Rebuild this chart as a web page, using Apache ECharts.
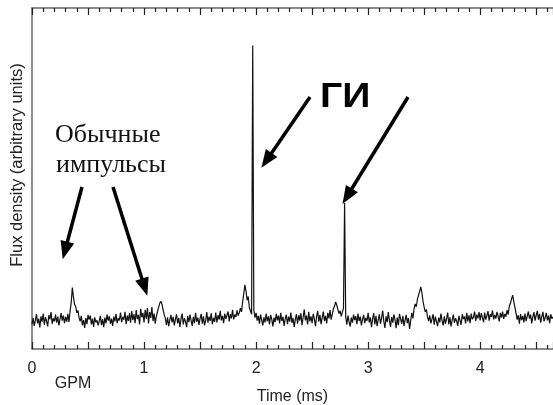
<!DOCTYPE html>
<html>
<head>
<meta charset="utf-8">
<script src="https://cdn.jsdelivr.net/npm/echarts@6/dist/echarts.min.js"></script>
<style>html,body{margin:0;padding:0;background:#fff}#c{width:553px;height:405px}</style>
</head>
<body>
<div id="c"></div>
<script>
// sample spacing of the recorded trace (ms)
var timeStep = 0.01;
// flux density (arbitrary units), one value per sample from 0 ms
var flux = [
7.2,9.1,6.8,8.4,10.2,7.5,8.9,6.3,9.6,8.0,
10.4,7.1,9.3,8.2,6.6,9.9,8.7,10.8,7.4,9.0,
8.1,10.1,7.7,9.5,6.9,8.8,10.5,8.3,9.8,7.6,
9.4,8.0,10.3,7.9,11.2,13.6,18.0,15.2,13.1,12.4,
10.6,11.3,9.2,8.1,9.7,7.0,8.5,6.2,9.1,7.3,
10.0,8.6,9.8,7.2,8.9,6.5,9.3,7.8,8.4,6.9,
8.2,9.7,7.0,8.8,6.4,9.2,7.5,10.1,8.3,9.6,
7.4,8.9,6.8,9.5,8.1,10.3,7.6,9.0,8.4,10.7,
7.9,9.4,8.6,10.9,7.3,9.8,8.2,10.5,7.7,11.1,
8.5,10.2,7.6,11.4,8.8,10.0,7.2,11.8,9.3,10.6,
7.8,11.5,8.9,12.0,7.5,10.8,9.1,12.3,8.2,10.4,
7.4,9.6,11.0,12.2,13.4,14.0,13.2,11.5,10.1,9.0,
7.1,9.3,6.7,8.5,10.0,7.8,9.4,6.9,8.7,10.2,
7.5,9.1,6.5,8.8,10.4,7.2,9.0,8.1,6.4,9.7,
7.9,10.1,8.3,6.8,9.4,7.6,10.6,8.0,9.2,7.1,
8.9,10.3,7.4,9.6,6.9,8.4,10.8,7.7,9.5,8.2,
10.5,7.3,9.1,8.0,10.7,7.8,9.9,8.6,11.2,8.4,
9.7,7.6,10.4,8.8,9.3,11.0,8.1,10.2,9.0,11.5,
8.7,10.1,9.4,11.3,9.8,10.6,12.0,10.9,13.8,16.2,
18.8,17.0,14.3,15.4,12.1,11.8,10.2,89.0,11.5,9.2,
10.6,8.3,9.7,7.4,10.1,8.5,6.9,9.3,7.8,10.4,
8.1,9.6,7.2,10.0,8.7,6.6,9.2,7.9,10.3,8.4,
9.8,7.5,10.6,8.2,9.4,6.8,8.9,10.1,7.3,9.5,
8.0,10.7,7.7,9.1,6.5,8.6,10.2,7.4,9.9,8.3,
10.5,7.0,9.3,11.6,8.4,9.8,7.2,10.9,8.1,9.6,
7.6,10.3,8.8,6.7,9.5,11.2,8.0,10.0,7.3,9.1,
11.0,8.2,9.7,7.5,10.6,9.0,11.4,8.6,10.2,11.8,
12.5,13.8,12.9,11.6,10.4,11.2,9.6,10.8,12.0,42.8,
9.4,7.1,9.8,8.0,6.6,9.2,7.7,10.1,8.5,9.6,
7.3,10.4,8.2,9.5,6.9,8.7,10.0,7.6,9.1,8.3,
10.6,7.8,9.3,6.4,8.9,10.5,7.2,9.7,6.7,8.5,
10.2,7.4,9.0,11.3,8.1,6.2,9.6,7.9,10.8,8.4,
6.5,9.4,7.7,10.1,8.6,6.1,9.2,7.0,10.3,8.8,
7.4,9.7,6.8,8.5,10.0,7.6,9.1,5.9,8.4,10.6,
9.0,11.8,13.2,12.4,14.6,15.8,16.9,18.2,16.5,14.0,
12.3,10.9,11.6,9.4,8.2,9.9,7.5,8.8,10.2,7.1,
9.5,8.0,6.7,9.2,7.8,10.4,8.3,6.9,9.6,7.4,
8.9,10.7,7.2,9.3,6.6,8.5,10.1,7.7,9.0,8.2,
6.8,9.7,8.4,7.1,10.2,8.8,9.5,7.5,10.6,8.1,
9.9,7.6,10.4,8.7,9.3,11.0,8.2,10.1,9.0,10.8,
8.4,10.5,9.2,7.9,10.7,8.6,9.8,11.1,8.3,10.2,
9.4,11.3,8.7,10.0,8.9,10.9,9.6,8.1,10.6,9.2,
11.0,8.8,10.3,9.5,11.4,10.1,12.6,13.4,14.7,15.8,
13.9,12.2,10.5,8.6,9.9,7.4,10.2,8.5,9.7,7.8,
10.4,8.2,9.6,11.0,8.9,10.1,7.5,9.4,10.8,8.3,
9.9,11.2,8.6,10.3,7.7,9.5,10.9,8.1,9.3,10.6,
8.4,9.8,7.6,10.2,8.9,9.4
];
// x-axis tick labels (ms)
var xTickLabels = [0, 1, 2, 3, 4];
// annotation arrows: [startTime, startFlux, endTime, endFlux]
var arrows = [
  [0.446, 47.5, 0.295, 28.9],
  [0.723, 47.5, 1.005, 18.1],
  [2.481, 73.9, 2.093, 55.3],
  [3.356, 73.9, 2.813, 44.8]
];
var annoNormal = ['Обычные', 'импульсы'];
var annoGiant = 'ГИ';

var seriesData = flux.map(function (v, i) { return [+(i * timeStep).toFixed(2), v]; });

var chart = echarts.init(document.getElementById('c'));
var sans = '"Liberation Sans", Arial, sans-serif';
var serif = '"Liberation Serif", "Times New Roman", serif';
function timeAxis(extra) {
  return Object.assign({
    type: 'value', min: 0, max: 4.65, interval: 0.5,
    axisLine: {show: true, onZero: false, lineStyle: {color: '#666', width: 1.5}},
    axisTick: {show: true, inside: true, length: 7, lineStyle: {color: '#222', width: 1.2}},
    minorTick: {show: true, splitNumber: 5, length: 4, lineStyle: {color: '#222', width: 1.2}},
    splitLine: {show: false}
  }, extra);
}
chart.setOption({
  animation: false,
  backgroundColor: '#fff',
  grid: {left: 32, right: 0, top: 8, bottom: 56, outerBoundsMode: 'none', containLabel: false},
  xAxis: [
    timeAxis({
      position: 'bottom',
      name: 'Time (ms)', nameLocation: 'middle', nameGap: 40,
      nameTextStyle: {color: '#222', fontSize: 16, fontFamily: sans},
      axisLabel: {
        show: true, margin: 12, color: '#222', fontSize: 16, fontFamily: sans,
        formatter: function (v) { return xTickLabels.indexOf(v) >= 0 ? String(v) : ''; }
      }
    }),
    timeAxis({position: 'top', axisLabel: {show: true, formatter: function () { return ''; }}})
  ],
  yAxis: {
    type: 'value', min: 0, max: 100,
    axisLine: {show: true, onZero: false, lineStyle: {color: '#666', width: 1.5}},
    axisTick: {show: false}, axisLabel: {show: false}, splitLine: {show: false}
  },
  series: [{
    type: 'line', xAxisIndex: 0, data: seriesData, showSymbol: false,
    lineStyle: {color: '#111', width: 1.2}, silent: true,
    markLine: {
      silent: true, symbol: ['none', 'triangle'], symbolSize: [14, 18],
      lineStyle: {color: '#000', width: 3.5, type: 'solid'},
      label: {show: false}, emphasis: {disabled: true},
      data: arrows.map(function (a) { return [{coord: [a[0], a[1]]}, {coord: [a[2], a[3]]}]; })
    }
  }],
  graphic: [
    {type: 'text', left: 55, top: 122, style: {text: annoNormal[0], font: '26px ' + serif, fill: '#111'}},
    {type: 'text', left: 56, top: 152, style: {text: annoNormal[1], font: '26px ' + serif, fill: '#111'}},
    {type: 'text', x: 320, y: 97, scaleX: 1.12, style: {text: annoGiant, font: 'bold 35px ' + sans, fill: '#000', verticalAlign: 'middle'}},
    {type: 'text', x: 73, y: 384, style: {text: 'GPM', font: '16px ' + sans, fill: '#222', align: 'center', verticalAlign: 'middle'}},
    {type: 'text', x: 17, y: 165, rotation: Math.PI / 2, style: {text: 'Flux density (arbitrary units)', font: '16.5px ' + sans, fill: '#222', align: 'center', verticalAlign: 'middle'}}
  ]
});
</script>
</body>
</html>
